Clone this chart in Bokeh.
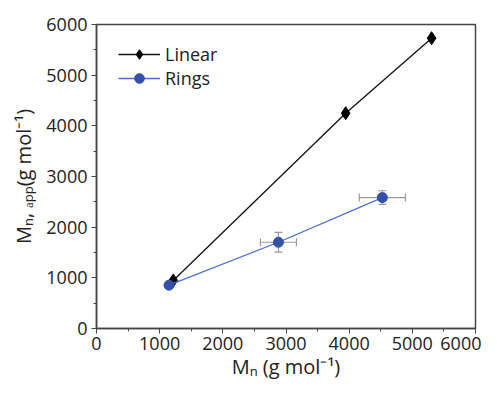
from bokeh.plotting import figure
from bokeh.models import (ColumnDataSource, Whisker, TeeHead, Range1d, SingleIntervalTicker,
                          Legend, LegendItem)
from bokeh.embed import file_html
from bokeh.resources import INLINE

# Data
x_linear = [1215, 3945, 5305]
y_linear = [948, 4250, 5730]
x_rings = [1148, 2880, 4525]
y_rings = [855, 1702, 2584]
x_err_rings = [25, 285, 365]
y_err_rings = [20, 195, 135]

FONT = "Open Sans"

p = figure(width=481, height=383, output_backend="svg", toolbar_location=None,
           x_range=Range1d(0, 6000), y_range=Range1d(0, 6000),
           min_border_left=96, min_border_right=6, min_border_top=24, min_border_bottom=55)
p.xgrid.visible = False
p.ygrid.visible = False
p.outline_line_color = "#444444"
p.outline_line_width = 1.5
p.background_fill_color = "white"
p.border_fill_color = "white"

for ax in (p.xaxis[0], p.yaxis[0]):
    ax.ticker = SingleIntervalTicker(interval=1000, num_minor_ticks=2)
    ax.major_tick_in = 0
    ax.major_tick_out = 5
    ax.minor_tick_in = 0
    ax.minor_tick_out = 3
    ax.axis_line_color = "#444444"
    ax.axis_line_width = 1.5
    ax.major_tick_line_color = "#444444"
    ax.minor_tick_line_color = "#444444"
    ax.major_label_text_font = FONT
    ax.major_label_text_font_size = "18px"
    ax.major_label_text_color = "#222222"
    ax.axis_label_text_font = FONT
    ax.axis_label_text_font_size = "20px"
    ax.axis_label_text_font_style = "normal"
    ax.axis_label_text_color = "#222222"

p.xaxis.axis_label = "Mₙ (g mol⁻¹)"
p.yaxis.axis_label = "Mₙ, ₐₚₚ(g mol⁻¹)"
p.xaxis.axis_label_standoff = 0
p.yaxis.axis_label_standoff = 6
p.xaxis.major_label_standoff = 3
p.yaxis.major_label_standoff = 4

src_r = ColumnDataSource(dict(
    x=x_rings, y=y_rings,
    xl=[a - b for a, b in zip(x_rings, x_err_rings)],
    xu=[a + b for a, b in zip(x_rings, x_err_rings)],
    yl=[a - b for a, b in zip(y_rings, y_err_rings)],
    yu=[a + b for a, b in zip(y_rings, y_err_rings)],
))
src_l = ColumnDataSource(dict(x=x_linear, y=y_linear))

ecol = "#9a9a9a"
wy = Whisker(source=src_r, base="x", lower="yl", upper="yu", dimension="height",
             line_color=ecol, line_width=1.2,
             upper_head=TeeHead(size=8, line_color=ecol, line_width=1.2),
             lower_head=TeeHead(size=8, line_color=ecol, line_width=1.2))
wx = Whisker(source=src_r, base="y", lower="xl", upper="xu", dimension="width",
             line_color=ecol, line_width=1.2,
             upper_head=TeeHead(size=8, line_color=ecol, line_width=1.2),
             lower_head=TeeHead(size=8, line_color=ecol, line_width=1.2))
p.add_layout(wy)
p.add_layout(wx)

ll = p.line("x", "y", source=src_l, line_color="#111111", line_width=1.3)
ls = p.scatter("x", "y", source=src_l, marker="diamond", size=13, fill_color="black", line_color="black")
rl = p.line("x", "y", source=src_r, line_color="#4a6fd0", line_width=1.3)
rs = p.scatter("x", "y", source=src_r, marker="circle", size=10, fill_color="#3550a8", line_color="#3550a8")

legend = Legend(items=[LegendItem(label="Linear", renderers=[ll, ls]),
                       LegendItem(label="Rings", renderers=[rl, rs])],
                location=(22, 238))
legend.border_line_color = None
legend.background_fill_alpha = 0
legend.label_text_font = FONT
legend.label_text_font_size = "18px"
legend.label_text_color = "#222222"
legend.glyph_width = 42
legend.label_standoff = 5
legend.spacing = 0
legend.padding = 0
legend.margin = 0
legend.label_height = 24
legend.glyph_height = 24
p.add_layout(legend)

open("out.html", "w").write(file_html(p, INLINE))
